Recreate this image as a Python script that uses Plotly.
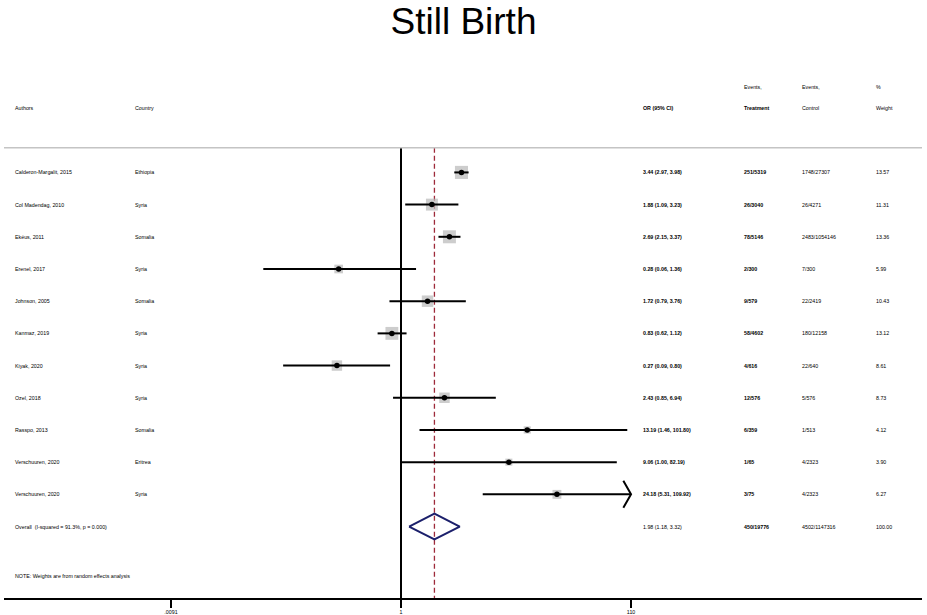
import math
import plotly.graph_objects as go

# study level data
authors = ['Calderon-Margalit, 2015', 'Col Madendag, 2010', 'Ekéus, 2011', 'Erenel, 2017',
           'Johnson, 2005', 'Kanmaz, 2019', 'Kiyak, 2020', 'Ozel, 2018', 'Rasspo, 2013',
           'Verschuuren, 2020', 'Verschuuren, 2020']
countries = ['Ethiopia', 'Syria', 'Somalia', 'Syria', 'Somalia', 'Syria', 'Syria', 'Syria',
             'Somalia', 'Eritrea', 'Syria']
or_est = [3.44, 1.88, 2.69, 0.28, 1.72, 0.83, 0.27, 2.43, 13.19, 9.06, 24.18]
ci_lo = [2.97, 1.09, 2.15, 0.06, 0.79, 0.62, 0.09, 0.85, 1.46, 1.00, 5.31]
ci_hi = [3.98, 3.23, 3.37, 1.36, 3.76, 1.12, 0.80, 6.94, 101.80, 82.19, 109.92]
treatment = ['251/5319', '26/3040', '78/5146', '2/300', '9/579', '58/4602', '4/616',
             '12/576', '6/359', '1/65', '3/75']
control = ['1748/27307', '26/4271', '2483/1054146', '7/300', '22/2419', '180/12158',
           '22/640', '5/576', '1/513', '4/2323', '4/2323']
weights = [13.57, 11.31, 13.36, 5.99, 10.43, 13.12, 8.61, 8.73, 4.12, 3.90, 6.27]

overall_label = 'Overall  (I-squared = 91.3%, p = 0.000)'
overall_or = 1.98
overall_lo = 1.18
overall_hi = 3.32
overall_treat = '450/19776'
overall_ctrl = '4502/1147316'
overall_weight = '100.00'

tick_vals = [0.0091, 1, 110]
tick_text = ['.0091', '1', '110']

FONT = 'Liberation Sans, Arial, sans-serif'
W, H = 927, 615
ML, MR, MT, MB = 4, 5, 0, 15
PW = W - ML - MR
TXT = 5.3


def px(p):
    # pixel column -> paper x
    return (p - ML) / PW


def fmt_ci(e, lo, hi):
    return '%.2f (%.2f, %.2f)' % (e, lo, hi)


rows = list(range(1, len(authors) + 1))
overall_row = len(authors) + 1
note_row = overall_row + 1.55
head_row = -1.0
events_row = -1.66
rule_row = 0.23
y_top, y_bot = -4.356, 14.22

fig = go.Figure()

# reference line at 1 and overall estimate line
fig.add_trace(go.Scatter(x=[1, 1], y=[rule_row, y_bot], mode='lines',
                         line=dict(color='black', width=2), hoverinfo='skip'))
fig.add_trace(go.Scatter(x=[overall_or, overall_or], y=[rule_row, y_bot], mode='lines',
                         line=dict(color='#9e2a3a', width=1.3, dash='5px,3px'),
                         hoverinfo='skip'))

# weight boxes
fig.add_trace(go.Scatter(x=or_est, y=rows, mode='markers',
                         marker=dict(symbol='square', color='#b8b8b8',
                                     size=[3.55 * math.sqrt(w) for w in weights],
                                     line=dict(width=0)),
                         hoverinfo='skip'))

# confidence intervals
cx, cy = [], []
for lo, hi, r in zip(ci_lo, ci_hi, rows):
    cx += [lo, hi, None]
    cy += [r, r, None]
fig.add_trace(go.Scatter(x=cx, y=cy, mode='lines', line=dict(color='black', width=2),
                         hoverinfo='skip'))

# open arrowhead where the interval runs off the scale
last = len(rows) - 1
ax = [ci_hi[last] / 1.17, ci_hi[last], ci_hi[last] / 1.17]
ay = [rows[last] - 0.42, rows[last], rows[last] + 0.42]
fig.add_trace(go.Scatter(x=ax, y=ay, mode='lines', line=dict(color='black', width=2),
                         hoverinfo='skip'))

# point estimates
fig.add_trace(go.Scatter(x=or_est, y=rows, mode='markers',
                         marker=dict(symbol='circle', color='black', size=5.5),
                         hoverinfo='skip'))

# pooled diamond
fig.add_trace(go.Scatter(x=[overall_lo, overall_or, overall_hi, overall_or, overall_lo],
                         y=[overall_row, overall_row - 0.4, overall_row, overall_row + 0.4,
                            overall_row],
                         mode='lines', line=dict(color='#1b1f6b', width=2),
                         hoverinfo='skip'))

cols = {'author': 13, 'country': 133, 'or': 641, 'treat': 742, 'ctrl': 800, 'weight': 874}
ann = []


def txt(x, y, s, bold=False, size=TXT):
    ann.append(dict(x=px(x), xref='paper', y=y, yref='y', text='<b>%s</b>' % s if bold else s,
                    showarrow=False, xanchor='left', yanchor='middle',
                    font=dict(family=FONT, size=size, color='black')))


txt(cols['treat'], events_row, 'Events,')
txt(cols['ctrl'], events_row, 'Events,')
txt(cols['weight'], events_row, '%')
txt(cols['author'], head_row, 'Authors')
txt(cols['country'], head_row, 'Country')
txt(cols['or'], head_row, 'OR (95% CI)', bold=True)
txt(cols['treat'], head_row, 'Treatment', bold=True)
txt(cols['ctrl'], head_row, 'Control')
txt(cols['weight'], head_row, 'Weight')

for i, r in enumerate(rows):
    txt(cols['author'], r, authors[i])
    txt(cols['country'], r, countries[i])
    txt(cols['or'], r, fmt_ci(or_est[i], ci_lo[i], ci_hi[i]), bold=True)
    txt(cols['treat'], r, treatment[i], bold=True)
    txt(cols['ctrl'], r, control[i])
    txt(cols['weight'], r, '%.2f' % weights[i])

txt(cols['author'], overall_row, overall_label)
txt(cols['or'], overall_row, fmt_ci(overall_or, overall_lo, overall_hi))
txt(cols['treat'], overall_row, overall_treat, bold=True)
txt(cols['ctrl'], overall_row, overall_ctrl)
txt(cols['weight'], overall_row, overall_weight)
txt(cols['author'], note_row, 'NOTE: Weights are from random effects analysis')

fig.update_layout(
    width=W, height=H,
    margin=dict(l=ML, r=MR, t=MT, b=MB),
    paper_bgcolor='white', plot_bgcolor='white',
    showlegend=False,
    title=dict(text='Still Birth', x=0.5, xanchor='center', y=1 - 21 / H, yanchor='middle',
               font=dict(family=FONT, size=37, color='black')),
    annotations=ann,
    shapes=[dict(type='line', xref='paper', yref='y', x0=0, x1=1, y0=rule_row, y1=rule_row,
                 line=dict(color='#c4c4c4', width=1.5))],
    xaxis=dict(type='log',
               range=[math.log10(1) - 397 / 112.7, math.log10(1) + (PW - 397) / 112.7],
               tickvals=tick_vals, ticktext=tick_text, ticks='outside', ticklen=8,
               tickwidth=2, tickcolor='black', showline=True, linewidth=2,
               linecolor='black', showgrid=False, zeroline=False,
               tickfont=dict(family=FONT, size=TXT, color='black')),
    yaxis=dict(range=[y_bot, y_top], visible=False, showgrid=False, zeroline=False),
)

# the page body has a default margin; drop it so the figure sits at the window corner
fig.write_html('out.html', config={'displayModeBar': False},
               post_script="document.body.style.margin='0';")
